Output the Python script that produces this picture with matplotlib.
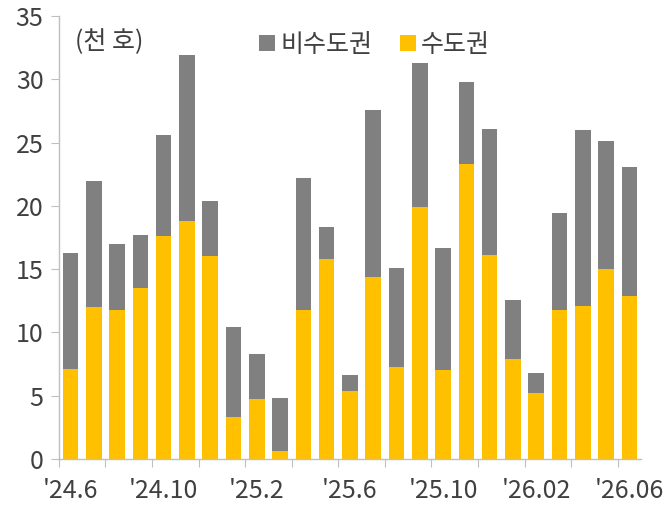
import numpy as np
import matplotlib.pyplot as plt

plt.rcParams['font.family'] = ['Noto Sans CJK KR', 'DejaVu Sans']
plt.rcParams['font.weight'] = 'light'

# 월별 값 (천 호)
months = ["'24.6", "'24.7", "'24.8", "'24.9", "'24.10", "'24.11", "'24.12",
          "'25.1", "'25.2", "'25.3", "'25.4", "'25.5", "'25.6", "'25.7",
          "'25.8", "'25.9", "'25.10", "'25.11", "'25.12", "'26.01", "'26.02",
          "'26.03", "'26.04", "'26.05", "'26.06"]
total = [16.3, 22.0, 17.0, 17.7, 25.6, 31.9, 20.4, 10.4, 8.3, 4.8, 22.2, 18.3,
         6.6, 27.6, 15.1, 31.3, 16.7, 29.8, 26.1, 12.6, 6.8, 19.4, 26.0, 25.1, 23.1]
capital = [7.1, 12.0, 11.8, 13.5, 17.6, 18.8, 16.0, 3.3, 4.7, 0.6, 11.8, 15.8,
           5.4, 14.4, 7.3, 19.9, 7.0, 23.3, 16.1, 7.9, 5.2, 11.8, 12.1, 15.0, 12.9]
non_capital = [t - c for t, c in zip(total, capital)]

label_months = ["'24.6", "'24.10", "'25.2", "'25.6", "'25.10", "'26.02", "'26.06"]

GRAY = '#808080'
YELLOW = '#FFC000'
TEXT = '#404040'
AXIS = '#BFBFBF'

fig = plt.figure(figsize=(6.66, 5.08), dpi=100)
ax = fig.add_axes([0.0884, 0.0965, 0.874, 0.872])

x = np.arange(len(months))
ax.bar(x, capital, width=0.67, color=YELLOW, label='수도권', zorder=2)
ax.bar(x, non_capital, width=0.67, bottom=capital, color=GRAY, label='비수도권', zorder=2)

ax.set_xlim(-0.5, len(months) - 0.5)
ax.set_ylim(0, 35)
ax.set_yticks(range(0, 36, 5))

# ticks at every second boundary, labels every fourth month
ax.set_xticks(np.arange(-0.5, len(months) - 1, 2))
ax.set_xticklabels([])
label_pos = [months.index(m) for m in label_months]
ax.set_xticks(label_pos, minor=True)
ax.set_xticklabels(label_months, minor=True)
ax.tick_params(axis='x', which='minor', length=0, pad=14, labelsize=18, labelcolor=TEXT)
ax.tick_params(axis='x', which='major', length=6, color=AXIS, direction='out')
ax.tick_params(axis='y', length=6, color=AXIS, labelsize=18, labelcolor=TEXT, pad=5)

for s in ['top', 'right']:
    ax.spines[s].set_visible(False)
for s in ['left', 'bottom']:
    ax.spines[s].set_color(AXIS)
    ax.spines[s].set_linewidth(1.0)

ax.text(0.028, 0.97, '(천 호)', transform=ax.transAxes, fontsize=18, color=TEXT,
        va='top', ha='left')

handles, labels = ax.get_legend_handles_labels()
leg = ax.legend(handles[::-1], labels[::-1], loc='upper left', bbox_to_anchor=(0.305, 1.015),
                ncol=2, frameon=False, fontsize=18, handlelength=0.65, handleheight=0.65,
                handletextpad=0.2, columnspacing=1.1, labelcolor=TEXT)

plt.savefig('out.png', dpi=100)
